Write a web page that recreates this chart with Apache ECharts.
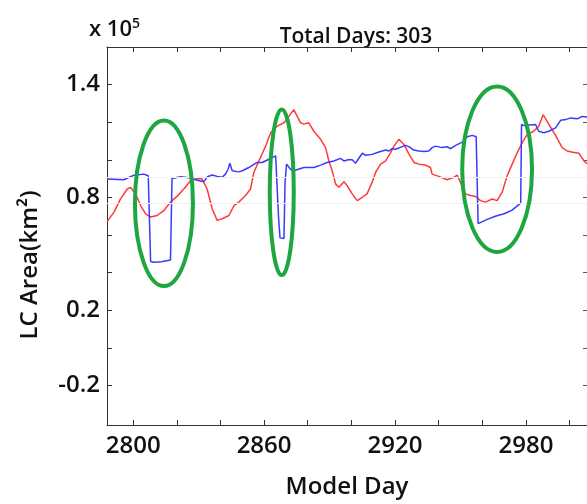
<!DOCTYPE html>
<html><head><meta charset="utf-8">
<script src="https://cdn.jsdelivr.net/npm/echarts@6/dist/echarts.min.js"></script>
<style>html,body{margin:0;padding:0;background:#fff}#c{width:587px;height:504px}</style>
</head><body><div id="c"></div>
<script>
// Model day / LC area (x 10^5 km^2)
const blueDays = [2788.0,2795.7,2799.6,2801.1,2804.9,2806.9,2807.4,2808.0,2809.5,2813.0,2817.1,2817.8,2821.7,2825.5,2828.6,2832.4,2834.0,2836.2,2838.5,2840.8,2842.3,2843.5,2844.3,2845.4,2848.4,2850.0,2853.0,2856.8,2859.1,2862.2,2865.3,2866.2,2866.6,2867.3,2869.1,2869.6,2870.3,2872.1,2873.6,2878.2,2882.8,2885.9,2888.9,2892.0,2895.0,2896.6,2898.5,2900.4,2901.9,2905.0,2906.5,2909.5,2912.6,2915.7,2917.2,2918.7,2920.3,2923.3,2924.8,2926.4,2928.6,2930.9,2933.2,2935.5,2937.0,2938.6,2941.6,2943.9,2945.5,2947.8,2950.8,2953.1,2955.4,2957.2,2958.1,2962.0,2966.0,2970.0,2973.5,2977.6,2978.0,2979.1,2984.4,2985.9,2988.2,2990.5,2993.6,2995.9,2998.2,3000.5,3003.5,3005.8,3008.0];
const blueValues = [0.898,0.894,0.915,0.919,0.924,0.915,0.915,0.459,0.455,0.458,0.467,0.901,0.910,0.905,0.894,0.884,0.910,0.919,0.912,0.907,0.924,0.950,0.982,0.942,0.936,0.942,0.959,0.986,0.986,1.003,1.021,1.021,0.700,0.585,0.582,0.880,0.977,0.950,0.942,0.959,0.959,0.972,0.986,0.994,1.008,0.994,1.000,1.000,0.982,1.035,1.024,1.029,1.042,1.052,1.047,1.059,1.056,1.070,1.077,1.070,1.052,1.047,1.044,1.047,1.065,1.073,1.065,1.070,1.059,1.077,1.094,1.123,1.130,1.123,0.661,0.682,0.700,0.713,0.731,0.770,1.188,1.182,1.188,1.152,1.144,1.152,1.170,1.210,1.214,1.223,1.218,1.231,1.228];
const redDays = [2788.1,2791.2,2794.2,2797.3,2798.8,2801.1,2803.4,2805.7,2808.0,2811.0,2814.1,2817.1,2820.2,2823.2,2826.3,2829.3,2831.5,2833.9,2836.2,2838.5,2840.8,2843.9,2846.2,2848.4,2851.5,2853.8,2855.3,2857.6,2860.7,2863.0,2866.0,2869.1,2871.4,2873.6,2875.2,2876.7,2878.2,2880.5,2882.8,2885.9,2888.2,2889.7,2891.2,2892.8,2894.3,2896.6,2898.1,2900.4,2902.7,2905.0,2907.2,2909.5,2911.1,2913.4,2915.7,2918.0,2919.5,2921.8,2924.1,2926.4,2928.7,2931.0,2934.0,2936.3,2937.0,2940.1,2943.9,2947.0,2948.5,2950.0,2952.3,2954.6,2956.9,2959.2,2961.5,2964.5,2966.8,2969.1,2971.4,2973.7,2976.0,2978.3,2980.6,2983.6,2985.9,2987.9,2990.5,2993.6,2996.6,2998.9,3001.5,3004.3,3006.6,3008.0];
const redValues = [0.673,0.722,0.792,0.845,0.854,0.819,0.757,0.713,0.696,0.704,0.731,0.775,0.807,0.845,0.889,0.901,0.899,0.845,0.740,0.678,0.687,0.704,0.757,0.775,0.810,0.845,0.933,0.994,1.073,1.144,1.179,1.197,1.231,1.267,1.231,1.197,1.190,1.197,1.152,1.109,1.065,0.994,0.942,0.871,0.854,0.884,0.862,0.819,0.783,0.801,0.819,0.880,0.933,0.977,0.994,1.038,1.073,1.109,1.082,1.030,0.986,0.977,0.972,0.959,0.924,0.912,0.894,0.907,0.919,0.880,0.819,0.810,0.805,0.783,0.775,0.792,0.783,0.828,0.915,0.977,1.038,1.091,1.135,1.152,1.179,1.240,1.188,1.130,1.065,1.047,1.040,1.035,0.994,0.980];
const xTicks = [2800,2820,2840,2860,2880,2900,2920,2940,2960,2980,3000];
const xLabels = [2800,2860,2920,2980];
const yTicks = [-0.2,0,0.2,0.4,0.6,0.8,1.0,1.2,1.4];
const yLabels = [-0.2,0.2,0.8,1.4];
const faintLevels = [0.905,0.767];
const ellipseCenters = [[2814.1,0.769],[2868.1,0.827],[2966.8,0.95]];
const ellipseRadii = [[13.3,0.44],[5.5,0.44],[16.0,0.44]];
const titleText = 'Total Days: 303';

const FONT = '"Open Sans", sans-serif';
const W = 600;
const zip = (a,b) => a.map((d,i)=>[d,b[i]]);
const chart = echarts.init(document.getElementById('c'), null, {renderer:'canvas'});
const axisCommon = {
  type:'value', min:2788, max:3008,
  axisLine:{show:true,onZero:false,lineStyle:{color:'#333',width:1}},
  splitLine:{show:false}
};
const textEls = [
  {id:'ttl', type:'text', x:356, y:37, style:{text:titleText, font:W+' 21px '+FONT, fill:'#111', align:'center', verticalAlign:'middle'}},
  {id:'mult', type:'text', x:89, y:30, style:{text:'x 10{s|5}', font:W+' 22px '+FONT, fill:'#111', align:'left', verticalAlign:'middle', rich:{s:{fontSize:14, fontWeight:W, fontFamily:FONT, padding:[0,0,12,0]}}}},
  {id:'yname', type:'text', x:30, y:265, rotation:Math.PI/2, style:{text:'LC Area(km²)', font:W+' 24px '+FONT, fill:'#111', align:'center', verticalAlign:'middle'}}
];
chart.setOption({
  animation:false,
  grid:{left:107, right:-1, top:47, bottom:76, containLabel:false},
  xAxis:[
    Object.assign({}, axisCommon, {position:'bottom',
      axisTick:{show:true,inside:true,length:5,customValues:xTicks,lineStyle:{color:'#333'}},
      axisLabel:{show:true,customValues:xLabels,margin:9,color:'#111',fontSize:24,fontWeight:W,fontFamily:FONT,formatter:v=>String(v)},
      name:'Model Day', nameLocation:'middle', nameGap:50, nameTextStyle:{color:'#111',fontSize:24,fontWeight:W,fontFamily:FONT}}),
    Object.assign({}, axisCommon, {position:'top',
      axisTick:{show:true,inside:true,length:5,customValues:xTicks,lineStyle:{color:'#333'}},
      axisLabel:{show:false}})
  ],
  yAxis:[
    {type:'value', min:-0.41, max:1.6, position:'left',
     axisLine:{show:true,onZero:false,lineStyle:{color:'#333'}},
     splitLine:{show:false},
     axisTick:{show:true,inside:true,length:5,customValues:yTicks,lineStyle:{color:'#333'}},
     axisLabel:{show:true,customValues:yLabels,margin:7,color:'#111',fontSize:24,fontWeight:W,fontFamily:FONT,formatter:v=>v.toFixed(1)}},
    {type:'value', min:-0.41, max:1.6, position:'right',
     axisLine:{show:true,onZero:false,lineStyle:{color:'#333'}},
     splitLine:{show:false},
     axisTick:{show:true,inside:true,length:4,customValues:yTicks,lineStyle:{color:'#555'}},
     axisLabel:{show:false}}
  ],
  series:[
    {type:'line', data:zip(redDays,redValues), showSymbol:false, lineStyle:{color:'#ff3a3a',width:1.5}, itemStyle:{color:'#ff3a3a'},
     markLine:{silent:true, symbol:'none', label:{show:false}, lineStyle:{color:'#f1f1ec',width:1,type:'solid'}, data:faintLevels.map(v=>({yAxis:v}))}},
    {type:'line', data:zip(blueDays,blueValues), showSymbol:false, lineStyle:{color:'#3a3aff',width:1.5}, itemStyle:{color:'#3a3aff'}}
  ],
  graphic:textEls
});
const ellEls = ellipseCenters.map((c,i)=>{
  const p = chart.convertToPixel({xAxisIndex:0,yAxisIndex:0}, c);
  const q = chart.convertToPixel({xAxisIndex:0,yAxisIndex:0}, [c[0]+ellipseRadii[i][0], c[1]+ellipseRadii[i][1]]);
  return {id:'ell'+i, type:'ellipse', z:100, shape:{cx:p[0],cy:p[1],rx:Math.abs(q[0]-p[0]),ry:Math.abs(q[1]-p[1])}, style:{fill:'none',stroke:'#1ea641',lineWidth:4}};
});
chart.setOption({graphic:textEls.concat(ellEls)});
</script>
</body></html>
